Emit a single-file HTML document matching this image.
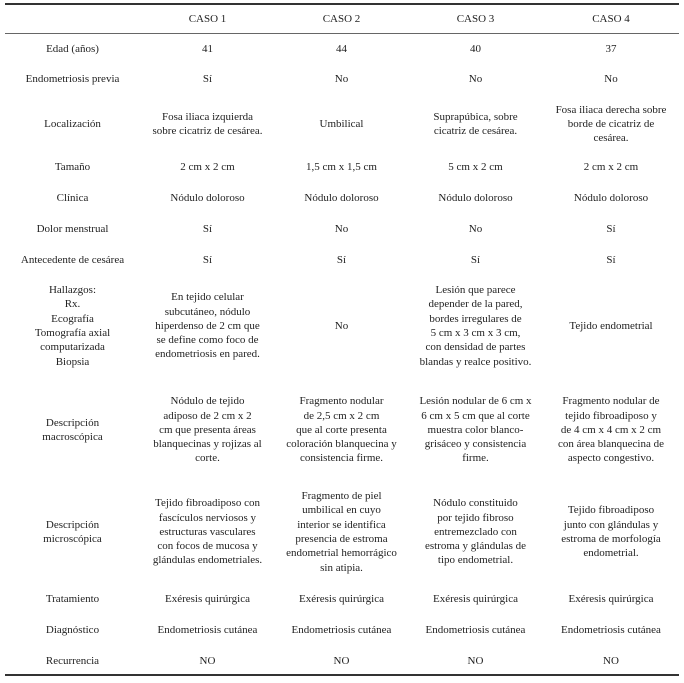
<!DOCTYPE html>
<html><head><meta charset="utf-8"><style>
body{margin:0;width:684px;height:683px;background:#fff;position:relative;overflow:hidden;font-family:"Liberation Serif",serif;font-size:11px;color:#222;}
.c{position:absolute;display:flex;align-items:center;justify-content:center;text-align:center;line-height:14.3px;}
.ln{position:absolute;left:5px;width:674px;background:#333;}
</style></head><body>
<div class="ln" style="top:3px;height:2px"></div>
<div class="ln" style="top:33px;height:1px;background:#666"></div>
<div class="ln" style="top:674px;height:2px"></div>
<div id="t"></div>
<script>
const cols=[[5,135],[140,135],[275,133],[408,135],[543,136]];
const rows=[
[4,30,["","CASO 1","CASO 2","CASO 3","CASO 4"]],
[34,30,["Edad (años)","41","44","40","37"]],
[64,30,["Endometriosis previa","Sí","No","No","No"]],
[94,60,["Localización","Fosa iliaca izquierda<br>sobre cicatriz de cesárea.","Umbilical","Suprapúbica, sobre<br>cicatriz de cesárea.","Fosa iliaca derecha sobre<br>borde de cicatriz de<br>cesárea."]],
[152,31,["Tamaño","2 cm x 2 cm","1,5 cm x 1,5 cm","5 cm x 2 cm","2 cm x 2 cm"]],
[183,31,["Clínica","Nódulo doloroso","Nódulo doloroso","Nódulo doloroso","Nódulo doloroso"]],
[214,31,["Dolor menstrual","Sí","No","No","Sí"]],
[245,31,["Antecedente de cesárea","Sí","Sí","Sí","Sí"]],
[276,100,["Hallazgos:<br>Rx.<br>Ecografía<br>Tomografía axial<br>computarizada<br>Biopsia","En tejido celular<br>subcutáneo, nódulo<br>hiperdenso de 2 cm que<br>se define como foco de<br>endometriosis en pared.","No","Lesión que parece<br>depender de la pared,<br>bordes irregulares de<br>5 cm x 3 cm x 3 cm,<br>con densidad de partes<br>blandas y realce positivo.","Tejido endometrial"]],
[377,106,["Descripción<br>macroscópica","Nódulo de tejido<br>adiposo de 2 cm x 2<br>cm que presenta áreas<br>blanquecinas y rojizas al<br>corte.","Fragmento nodular<br>de 2,5 cm x 2 cm<br>que al corte presenta<br>coloración blanquecina y<br>consistencia firme.","Lesión nodular de 6 cm x<br>6 cm x 5 cm que al corte<br>muestra color blanco-<br>grisáceo y consistencia<br>firme.","Fragmento nodular de<br>tejido fibroadiposo y<br>de 4 cm x 4 cm x 2 cm<br>con área blanquecina de<br>aspecto congestivo."]],
[483,98,["Descripción<br>microscópica","Tejido fibroadiposo con<br>fascículos nerviosos y<br>estructuras vasculares<br>con focos de mucosa y<br>glándulas endometriales.","Fragmento de piel<br>umbilical en cuyo<br>interior se identifica<br>presencia de estroma<br>endometrial hemorrágico<br>sin atipia.","Nódulo constituido<br>por tejido fibroso<br>entremezclado con<br>estroma y glándulas de<br>tipo endometrial.","Tejido fibroadiposo<br>junto con glándulas y<br>estroma de morfología<br>endometrial."]],
[584,31,["Tratamiento","Exéresis quirúrgica","Exéresis quirúrgica","Exéresis quirúrgica","Exéresis quirúrgica"]],
[615,31,["Diagnóstico","Endometriosis cutánea","Endometriosis cutánea","Endometriosis cutánea","Endometriosis cutánea"]],
[646,30,["Recurrencia","NO","NO","NO","NO"]]
];
const t=document.getElementById('t');
rows.forEach((r,ri)=>{r[2].forEach((txt,ci)=>{
const d=document.createElement('div');
d.className='c';


d.style.left=cols[ci][0]+'px';d.style.width=cols[ci][1]+'px';
d.style.top=r[0]+'px';d.style.height=r[1]+'px';
d.innerHTML=txt;t.appendChild(d);});});
</script>
</body></html>
